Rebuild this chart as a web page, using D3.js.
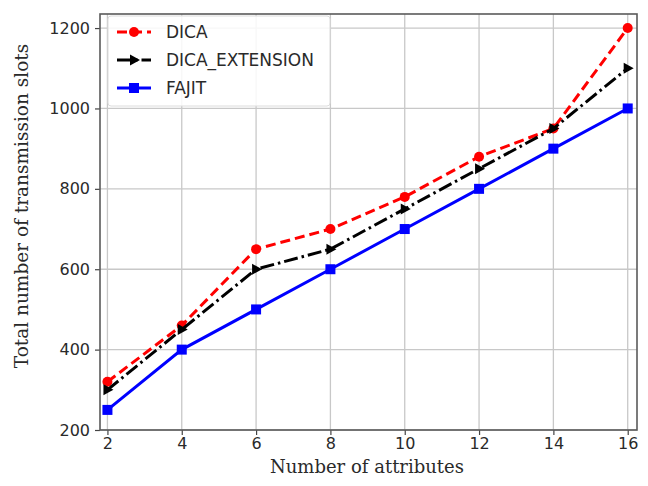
<!DOCTYPE html>
<html>
<head>
<meta charset="utf-8">
<style>
  body { margin: 0; background: #fff; }
  svg { display: block; }
  .tick text { font-family: "DejaVu Sans", sans-serif; font-size: 16px; fill: #2a2a2a; }
</style>
</head>
<body>
<svg width="648" height="486"></svg>
<script src="https://cdnjs.cloudflare.com/ajax/libs/d3/7.8.5/d3.min.js"></script>
<script>
// values
var attributes = [2, 4, 6, 8, 10, 12, 14, 16];
var dica = [320, 460, 650, 700, 780, 880, 950, 1200];
var dicaExt = [300, 450, 600, 650, 750, 850, 950, 1100];
var fajit = [250, 400, 500, 600, 700, 800, 900, 1000];
var yTicks = [200, 400, 600, 800, 1000, 1200];
var seriesNames = ["DICA", "DICA_EXTENSION", "FAJIT"];

var svg = d3.select("svg");

var x = d3.scaleLinear().domain([1.8, 16.25]).range([100, 637]);
var y = d3.scaleLinear().domain([200, 1235]).range([430, 14]);

// grid
svg.append("g").selectAll("line").data(attributes).enter().append("line")
  .attr("x1", d => x(d)).attr("x2", d => x(d))
  .attr("y1", y.range()[0]).attr("y2", y.range()[1])
  .attr("stroke", "#c8c8c8").attr("stroke-width", 1.3);
svg.append("g").selectAll("line").data(yTicks).enter().append("line")
  .attr("y1", d => y(d)).attr("y2", d => y(d))
  .attr("x1", x.range()[0]).attr("x2", x.range()[1])
  .attr("stroke", "#c8c8c8").attr("stroke-width", 1.3);

// axes
var xAxis = svg.append("g").attr("transform", "translate(0," + y.range()[0] + ")")
  .call(d3.axisBottom(x).tickValues(attributes).tickFormat(d3.format("d")).tickSize(5).tickPadding(3));
var yAxis = svg.append("g").attr("transform", "translate(" + x.range()[0] + ",0)")
  .call(d3.axisLeft(y).tickValues(yTicks).tickFormat(d3.format("d")).tickSize(5).tickPadding(5));
[xAxis, yAxis].forEach(function(a) {
  a.select(".domain").remove();
  a.selectAll(".tick line").attr("stroke", "#444").attr("stroke-width", 1.2);
});

// frame
svg.append("rect")
  .attr("x", x.range()[0]).attr("y", y.range()[1])
  .attr("width", x.range()[1] - x.range()[0]).attr("height", y.range()[0] - y.range()[1])
  .attr("fill", "none").attr("stroke", "#5a5a5a").attr("stroke-width", 1.6);

var line = d3.line().x((d, i) => x(attributes[i])).y(d => y(d));

var series = [
  {name: seriesNames[0], vals: dica, color: "#ff0000", dash: "10,5", marker: "circle"},
  {name: seriesNames[1], vals: dicaExt, color: "#000000", dash: "14,4,2.5,4", marker: "tri"},
  {name: seriesNames[2], vals: fajit, color: "#0000ff", dash: null, marker: "square"}
];

function drawMarker(g, type, cx, cy, color) {
  if (type === "circle") {
    g.append("circle").attr("cx", cx).attr("cy", cy).attr("r", 5).attr("fill", color);
  } else if (type === "square") {
    g.append("rect").attr("x", cx - 5).attr("y", cy - 5).attr("width", 10).attr("height", 10).attr("fill", color);
  } else {
    g.append("path").attr("d", "M" + (cx + 6) + "," + cy + "L" + (cx - 4) + "," + (cy - 5.5) + "L" + (cx - 4) + "," + (cy + 5.5) + "Z")
      .attr("fill", color);
  }
}

series.forEach(function(s) {
  var g = svg.append("g");
  g.append("path").datum(s.vals).attr("d", line)
    .attr("fill", "none").attr("stroke", s.color).attr("stroke-width", 3)
    .attr("stroke-dasharray", s.dash);
  s.vals.forEach(function(v, i) { drawMarker(g, s.marker, x(attributes[i]), y(v), s.color); });
});

// legend
var lg = svg.append("g");
lg.append("rect").attr("x", 108).attr("y", 16).attr("width", 222).attr("height", 90).attr("rx", 3)
  .attr("fill", "#fff").attr("fill-opacity", 0.85).attr("stroke", "#dcdcdc");
series.forEach(function(s, i) {
  var ly = 32 + i * 28;
  lg.append("line").attr("x1", 117).attr("x2", 151).attr("y1", ly).attr("y2", ly)
    .attr("stroke", s.color).attr("stroke-width", 3).attr("stroke-dasharray", s.dash);
  drawMarker(lg, s.marker, 134, ly, s.color);
  lg.append("text").attr("x", 166).attr("y", ly + 6).text(s.name)
    .attr("font-family", "DejaVu Sans, sans-serif").attr("font-size", 17).attr("fill", "#2a2a2a");
});

// axis labels
svg.append("text").attr("x", 367).attr("y", 473)
  .attr("text-anchor", "middle").attr("font-family", "DejaVu Serif, serif").attr("font-size", 18)
  .attr("fill", "#2a2a2a").text("Number of attributes");
svg.append("text").attr("transform", "translate(28,206) rotate(-90)")
  .attr("text-anchor", "middle").attr("font-family", "DejaVu Serif, serif").attr("font-size", 18.5)
  .attr("fill", "#2a2a2a").text("Total number of transmission slots");
</script>
</body>
</html>
